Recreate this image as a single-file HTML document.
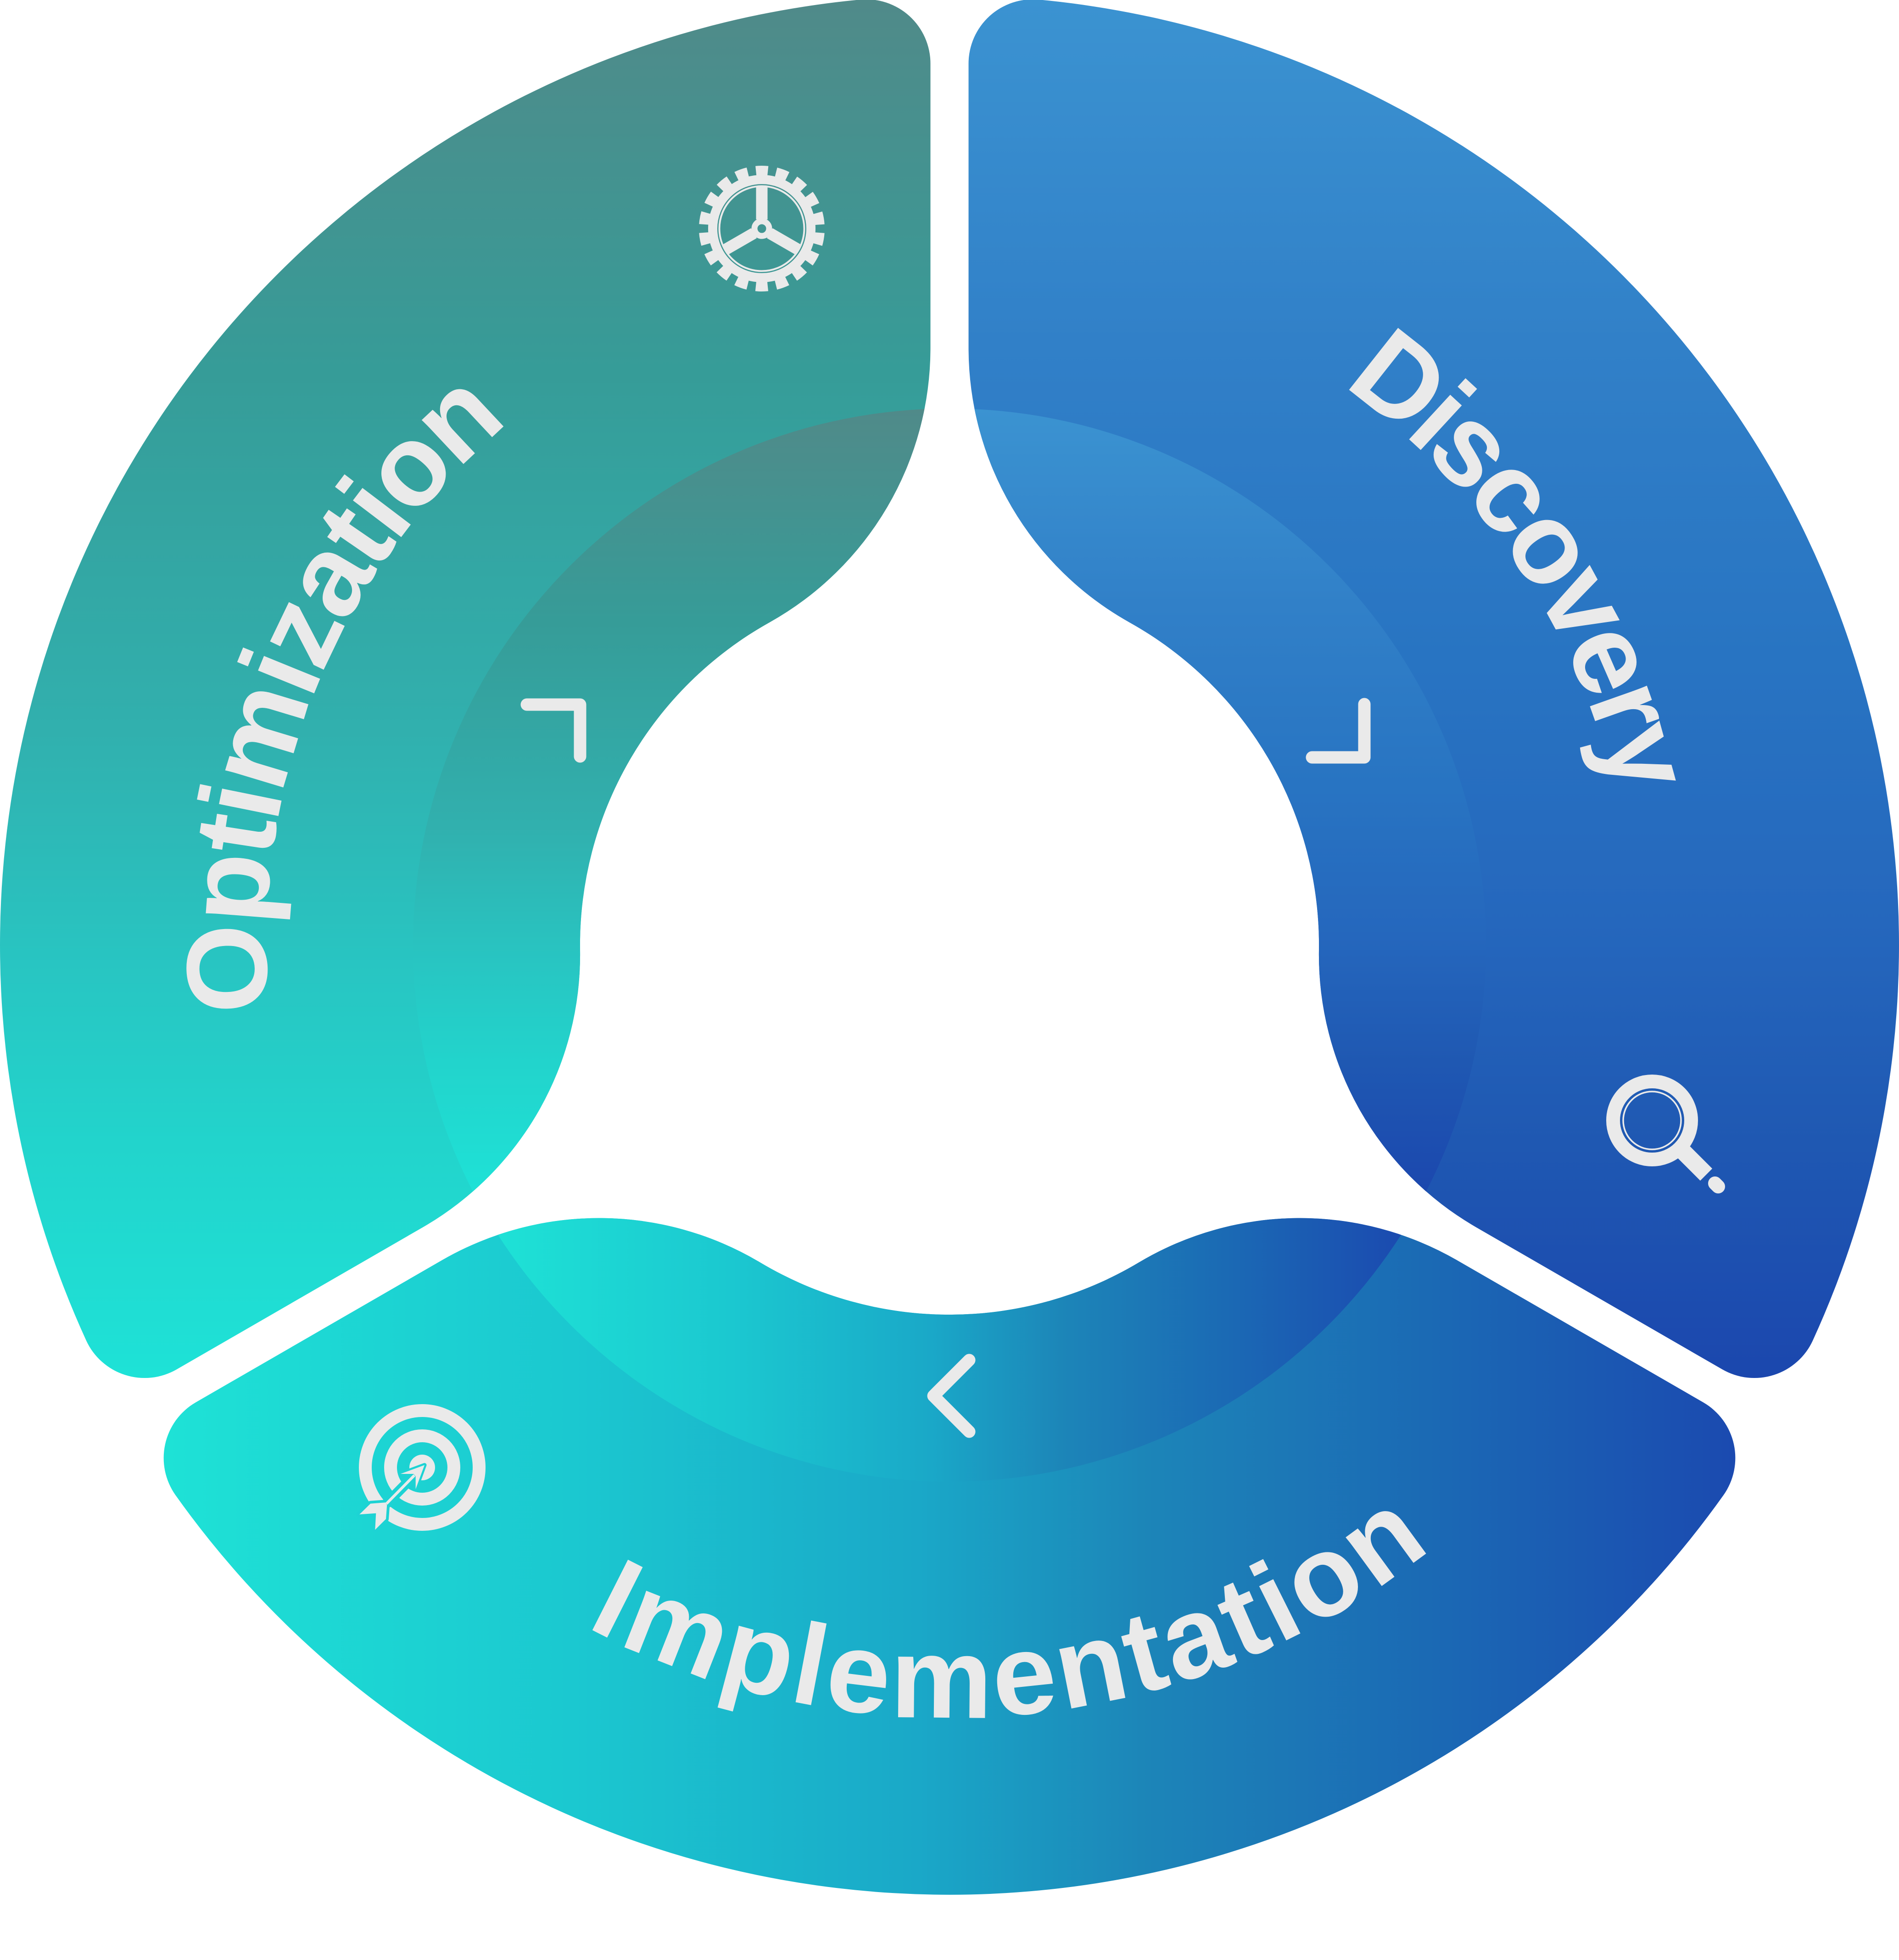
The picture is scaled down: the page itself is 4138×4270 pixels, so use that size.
<!DOCTYPE html>
<html>
<head>
<meta charset="utf-8">
<style>
  html, body { margin: 0; padding: 0; background: #ffffff; }
  svg { display: block; }
</style>
</head>
<body>
<svg xmlns="http://www.w3.org/2000/svg" width="4138" height="4270" viewBox="0 0 4138 4270">
  <defs>
    <!-- Optimization gradients (vertical) -->
    <linearGradient id="gOo" gradientUnits="userSpaceOnUse" x1="0" y1="0" x2="0" y2="3002">
      <stop offset="0" stop-color="#508a89"/>
      <stop offset="0.27" stop-color="#369c98"/>
      <stop offset="0.53" stop-color="#31b0ae"/>
      <stop offset="0.70" stop-color="#28c5c2"/>
      <stop offset="0.83" stop-color="#22d4cc"/>
      <stop offset="1" stop-color="#1ee2d7"/>
    </linearGradient>
    <linearGradient id="gOi" gradientUnits="userSpaceOnUse" x1="0" y1="890" x2="0" y2="2608">
      <stop offset="0" stop-color="#508a89"/>
      <stop offset="0.27" stop-color="#369c98"/>
      <stop offset="0.53" stop-color="#31b0ae"/>
      <stop offset="0.70" stop-color="#28c5c2"/>
      <stop offset="0.83" stop-color="#22d4cc"/>
      <stop offset="1" stop-color="#1ee2d7"/>
    </linearGradient>
    <!-- Discovery gradients (vertical) -->
    <linearGradient id="gDo" gradientUnits="userSpaceOnUse" x1="0" y1="0" x2="0" y2="3002">
      <stop offset="0" stop-color="#3b93d1"/>
      <stop offset="0.25" stop-color="#3180c8"/>
      <stop offset="0.48" stop-color="#2874c2"/>
      <stop offset="0.67" stop-color="#2567bd"/>
      <stop offset="0.83" stop-color="#1f58b2"/>
      <stop offset="1" stop-color="#1b47ae"/>
    </linearGradient>
    <linearGradient id="gDi" gradientUnits="userSpaceOnUse" x1="0" y1="890" x2="0" y2="2607">
      <stop offset="0" stop-color="#3b93d1"/>
      <stop offset="0.25" stop-color="#3180c8"/>
      <stop offset="0.48" stop-color="#2874c2"/>
      <stop offset="0.67" stop-color="#2567bd"/>
      <stop offset="0.83" stop-color="#1f58b2"/>
      <stop offset="1" stop-color="#1b47ae"/>
    </linearGradient>
    <!-- Implementation gradients (horizontal) -->
    <linearGradient id="gIo" gradientUnits="userSpaceOnUse" x1="357" y1="0" x2="3781" y2="0">
      <stop offset="0" stop-color="#1ee2d6"/>
      <stop offset="0.26" stop-color="#1bc8d0"/>
      <stop offset="0.48" stop-color="#1aa8c8"/>
      <stop offset="0.626" stop-color="#1c85b8"/>
      <stop offset="0.816" stop-color="#1b68b4"/>
      <stop offset="1" stop-color="#1b4ab0"/>
    </linearGradient>
    <linearGradient id="gIi" gradientUnits="userSpaceOnUse" x1="1078" y1="0" x2="3060" y2="0">
      <stop offset="0" stop-color="#1ee2d6"/>
      <stop offset="0.26" stop-color="#1bc8d0"/>
      <stop offset="0.48" stop-color="#1aa8c8"/>
      <stop offset="0.626" stop-color="#1c85b8"/>
      <stop offset="0.816" stop-color="#1b68b4"/>
      <stop offset="1" stop-color="#1b4ab0"/>
    </linearGradient>

    <clipPath id="cc"><circle cx="2069" cy="2059" r="1169"/></clipPath>

    <path id="segD" d="M 2263.7 -0.8 A 2069 2069 0 0 1 3950.2 2920.3 A 140 140 0 0 1 3752.9 2983.3 L 3216.4 2673.6 A 685 685 0 0 1 2874 2070.5 A 805 805 0 0 0 2461.5 1356.1 A 685 685 0 0 1 2110.5 758 L 2110.5 138.6 A 140 140 0 0 1 2263.7 -0.8 Z"/>
    <path id="segI" d="M 3755.4 3257.5 A 2069 2069 0 0 1 382.6 3257.5 A 140 140 0 0 1 426.6 3055.1 L 963.1 2745.4 A 685 685 0 0 1 1656.5 2750.4 A 805 805 0 0 0 2481.5 2750.4 A 685 685 0 0 1 3174.9 2745.4 L 3711.4 3055.1 A 140 140 0 0 1 3755.4 3257.5 Z"/>
    <path id="segO" d="M 187.8 2920.3 A 2069 2069 0 0 1 1874.3 -0.8 A 140 140 0 0 1 2027.5 138.6 L 2027.5 758 A 685 685 0 0 1 1676.5 1356.1 A 805 805 0 0 0 1264 2070.5 A 685 685 0 0 1 921.6 2673.6 L 385.1 2983.3 A 140 140 0 0 1 187.8 2920.3 Z"/>

    <path id="pO" d="M 587.1 2204.3 A 1489 1489 0 1 1 3511.2 2429.3" fill="none"/>
    <path id="pD" d="M 2925.2 840.8 A 1489 1489 0 1 1 847.8 2910.9" fill="none"/>
    <path id="pI" d="M 1276.3 3543.6 A 1683 1683 0 1 0 2306.1 392.8" fill="none"/>
  </defs>

  <!-- Segments -->
  <use href="#segO" fill="url(#gOo)"/>
  <use href="#segD" fill="url(#gDo)"/>
  <use href="#segI" fill="url(#gIo)"/>

  <!-- Inner lighter disc overlay -->
  <g clip-path="url(#cc)">
    <use href="#segO" fill="url(#gOi)"/>
    <use href="#segD" fill="url(#gDi)"/>
    <use href="#segI" fill="url(#gIi)"/>
  </g>

  <!-- Chevrons -->
  <g fill="none" stroke="#eaeaea" stroke-width="27" stroke-linecap="round" stroke-linejoin="round">
    <path d="M 1148 1535 L 1264 1535 L 1264 1648"/>
    <path d="M 2973 1534 L 2973 1650 L 2859 1650"/>
    <path d="M 2112 2963 L 2034 3041 L 2112 3119"/>
  </g>

  <!-- Gear icon -->
  <g fill="none" stroke="#eaeaea">
    <circle cx="1660" cy="498" r="126" stroke-width="22" stroke-dasharray="26 17.982" stroke-dashoffset="-8.991"/>
    <circle cx="1660" cy="498" r="107" stroke-width="20"/>
    <circle cx="1660" cy="498" r="92.5" stroke-width="4"/>
    <g stroke-width="25" stroke-linecap="butt">
      <line x1="1660" y1="478" x2="1660" y2="406"/>
      <line x1="1677.3" y1="508" x2="1739.7" y2="544"/>
      <line x1="1642.7" y1="508" x2="1580.3" y2="544"/>
    </g>
    <circle cx="1660" cy="498" r="16" stroke-width="13"/>
  </g>

  <!-- Magnifier icon -->
  <g fill="none" stroke="#eaeaea">
    <circle cx="3600" cy="2441" r="85" stroke-width="30"/>
    <circle cx="3600" cy="2441" r="63" stroke-width="3.5"/>
    <line x1="3655" y1="2496" x2="3718" y2="2559" stroke-width="37" stroke-linecap="butt"/>
    <line x1="3737" y1="2578" x2="3744" y2="2585" stroke-width="30" stroke-linecap="round"/>
  </g>

  <!-- Target icon -->
  <g>
    <circle cx="920" cy="3197" r="124" fill="none" stroke="#eaeaea" stroke-width="28"/>
    <circle cx="920" cy="3197" r="69" fill="none" stroke="#eaeaea" stroke-width="28"/>
    <circle cx="920" cy="3197" r="28" fill="#eaeaea"/>
    <!-- background-colored cuts -->
    <line x1="842" y1="3276" x2="903" y2="3214" stroke="#1dd3d4" stroke-width="22"/>
    <polygon points="840,3273.3 807.3,3275.7 783.3,3299.3 819.3,3296.7 817.3,3332.7 841,3309.3 843.3,3278.3" fill="#1dd3d4" stroke="#1dd3d4" stroke-width="12" stroke-linejoin="round"/>
    <polygon points="925,3191.7 872.7,3211 901,3211 905.7,3216 905.7,3244.3" fill="#1dd3d4" stroke="#1dd3d4" stroke-width="9" stroke-linejoin="round"/>
    <!-- arrow -->
    <line x1="842" y1="3276" x2="903" y2="3214" stroke="#eaeaea" stroke-width="6"/>
    <polygon points="840,3273.3 807.3,3275.7 783.3,3299.3 819.3,3296.7 817.3,3332.7 841,3309.3 843.3,3278.3" fill="#eaeaea"/>
    <polygon points="925,3191.7 872.7,3211 901,3211 905.7,3216 905.7,3244.3" fill="#eaeaea"/>
  </g>

  <!-- Curved labels -->
  <g font-family="'Liberation Sans', Arial, sans-serif" font-weight="700" font-size="250" fill="#eaeaea">
    <text letter-spacing="-6.5"><textPath href="#pO">Optimization</textPath></text>
    <text letter-spacing="-11.6"><textPath href="#pD">Discovery</textPath></text>
    <text letter-spacing="8.6"><textPath href="#pI">Implementation</textPath></text>
  </g>
</svg>
</body>
</html>
